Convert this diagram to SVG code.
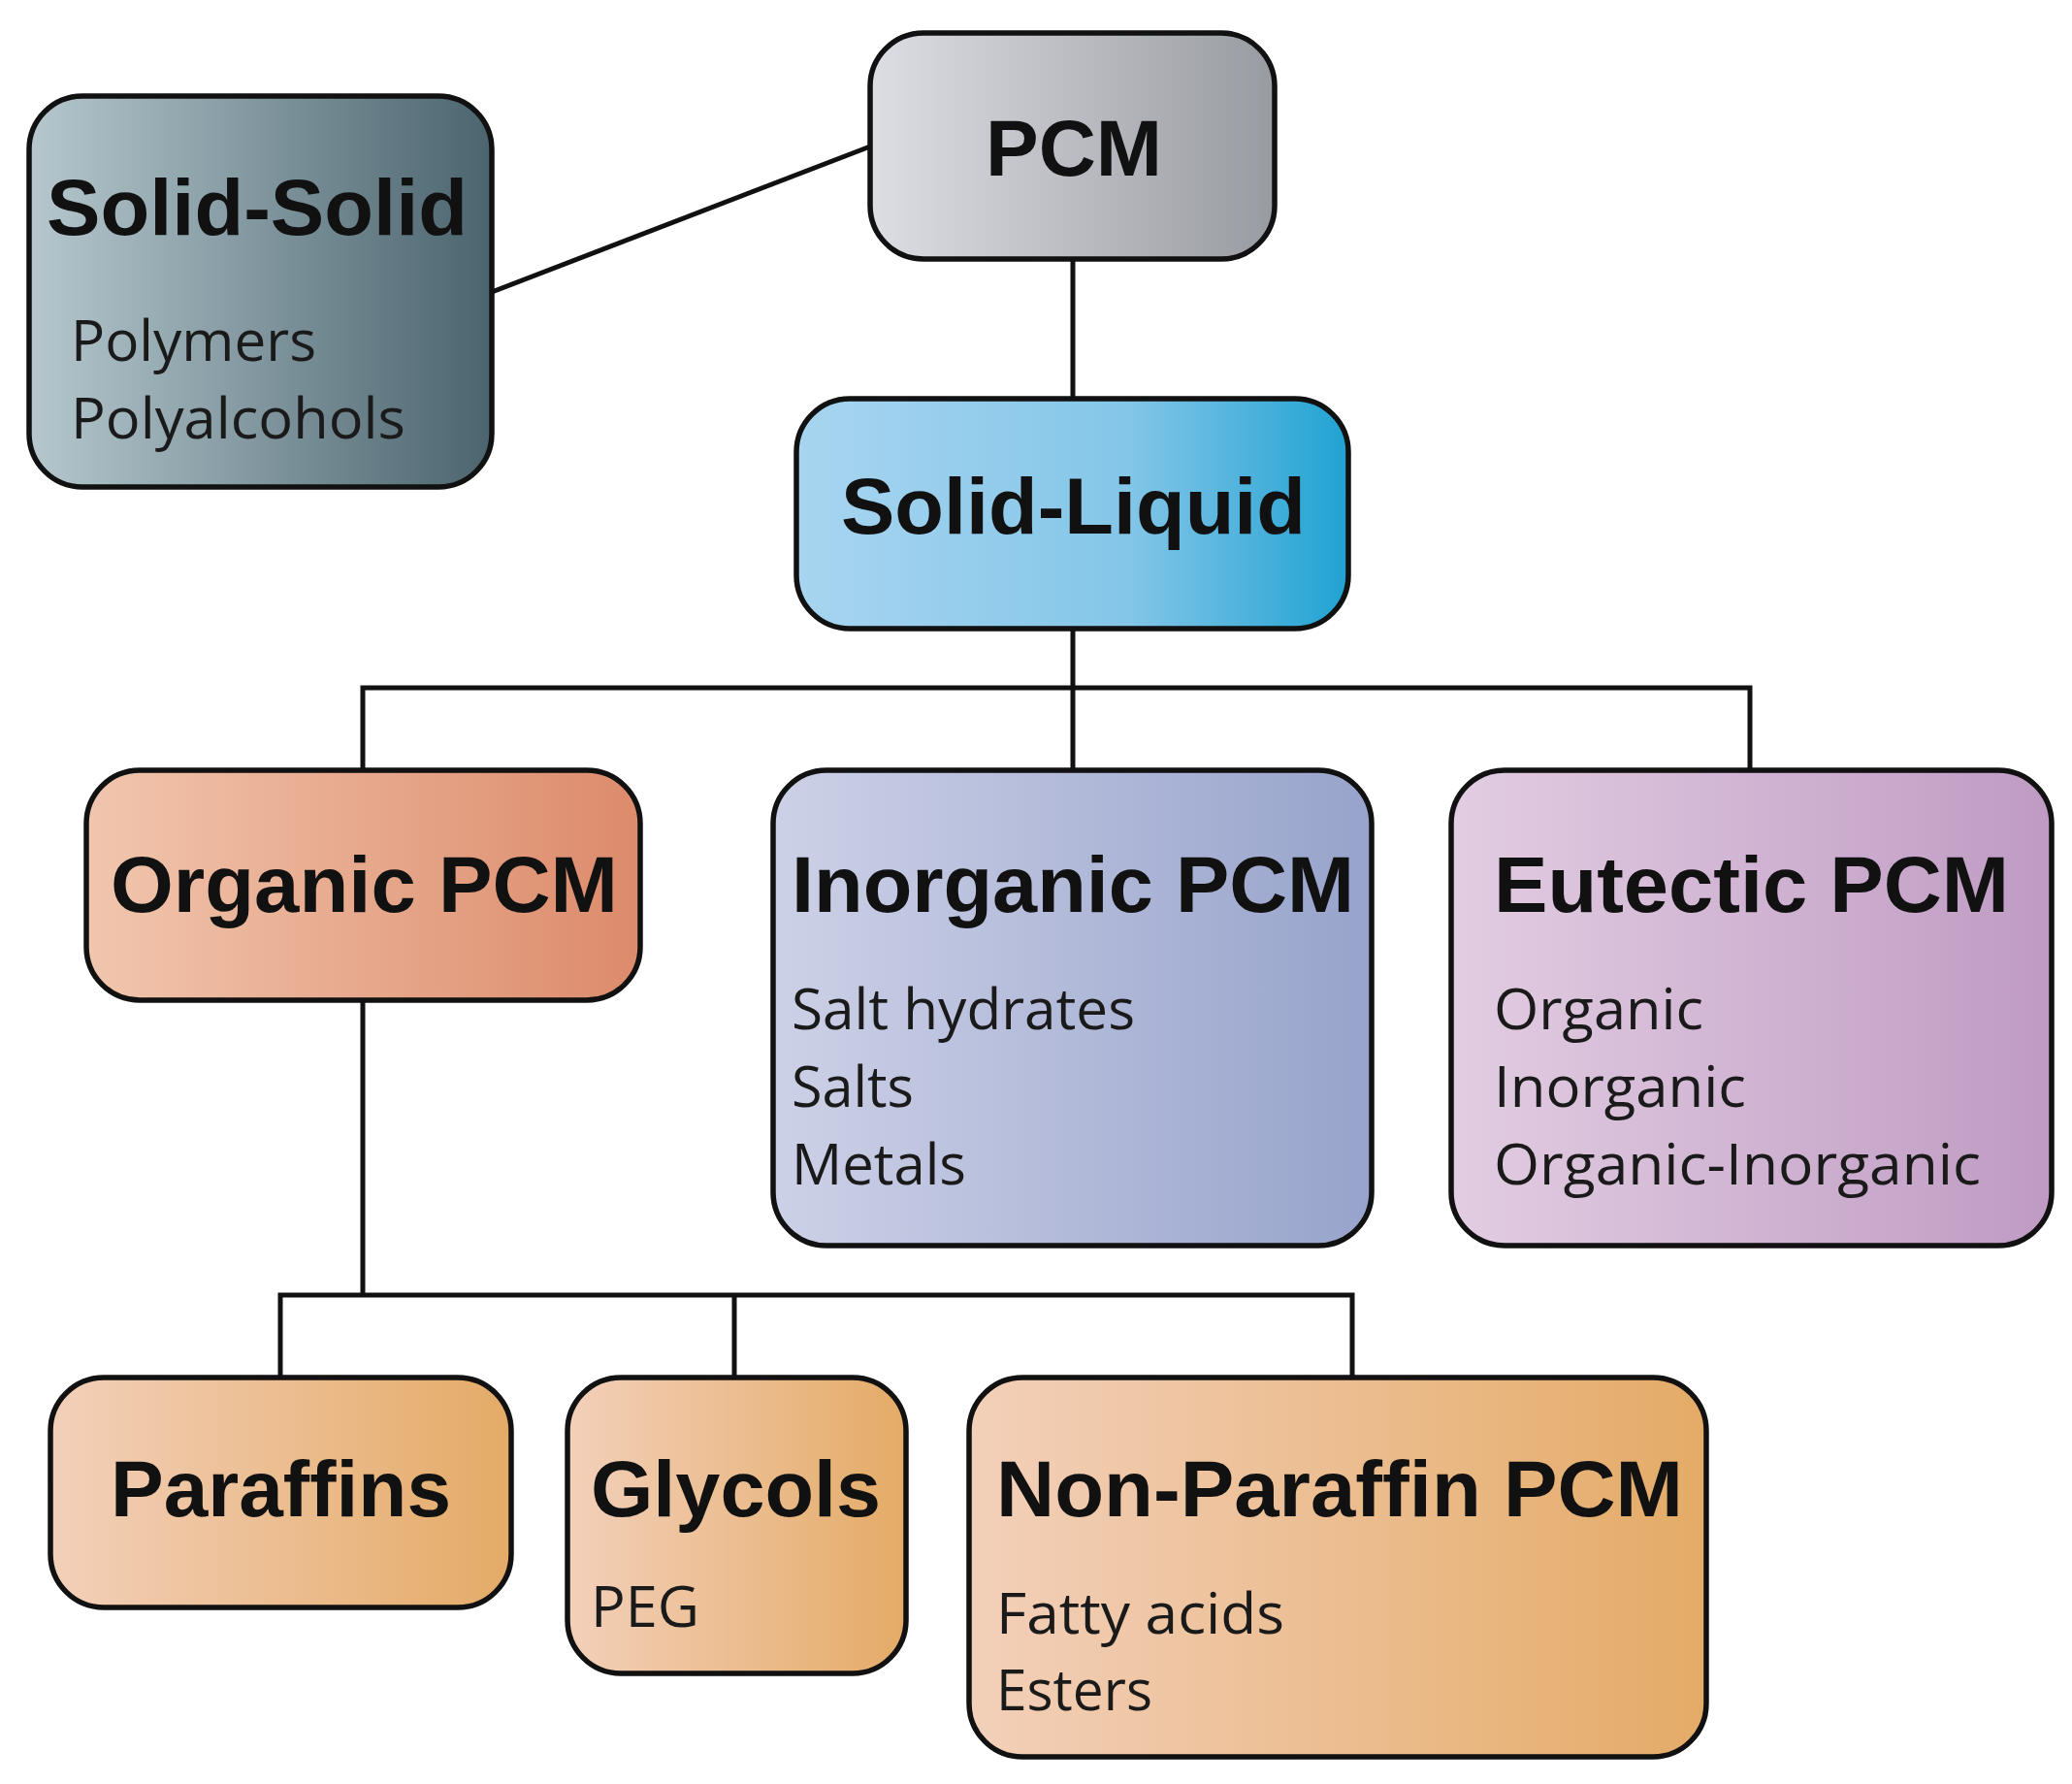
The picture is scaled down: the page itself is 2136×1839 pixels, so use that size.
<svg xmlns="http://www.w3.org/2000/svg" width="2136" height="1839" viewBox="0 0 2136 1839">
<defs>
<linearGradient id="gPCM"><stop offset="0" stop-color="#dddee4"/><stop offset="1" stop-color="#999ba2"/></linearGradient>
<linearGradient id="gSS"><stop offset="0" stop-color="#b6c8ce"/><stop offset="1" stop-color="#4b646e"/></linearGradient>
<linearGradient id="gSL"><stop offset="0" stop-color="#a8d5f0"/><stop offset="0.6" stop-color="#84c6e8"/><stop offset="1" stop-color="#20a2d2"/></linearGradient>
<linearGradient id="gOrg"><stop offset="0" stop-color="#f1c6ae"/><stop offset="1" stop-color="#dc8b6b"/></linearGradient>
<linearGradient id="gInorg"><stop offset="0" stop-color="#cdd1e7"/><stop offset="1" stop-color="#97a3cb"/></linearGradient>
<linearGradient id="gEut"><stop offset="0" stop-color="#e2cde2"/><stop offset="1" stop-color="#bf9bc3"/></linearGradient>
<linearGradient id="gOr"><stop offset="0" stop-color="#f3d0ba"/><stop offset="1" stop-color="#e4ab67"/></linearGradient>
</defs>
<style>
.box{stroke:#111;stroke-width:5.5}
.t{font-family:"Liberation Sans",Arial,sans-serif;font-weight:bold;font-size:82px;fill:#111}
.s{font-family:"Open Sans","Noto Sans",sans-serif;font-size:58px;fill:#1a1a1a}
.c{fill:none;stroke:#111;stroke-width:5}
</style>
<g id="connectors">
<line class="c" x1="897" y1="151" x2="507" y2="301"/>
<line class="c" x1="1106" y1="267" x2="1106" y2="411"/>
<polyline class="c" points="1106,648 1106,794"/>
<polyline class="c" points="374,794 374,709 1804,709 1804,794"/>
<polyline class="c" points="374,1031 374,1335"/>
<polyline class="c" points="289,1420 289,1335 1394,1335 1394,1420"/>
<line class="c" x1="757" y1="1335" x2="757" y2="1420"/>
</g>
<g id="pcm"><rect class="box" x="897" y="34" width="417" height="233" rx="55" fill="url(#gPCM)"/>
<text class="t" x="1016" y="181" textLength="182" lengthAdjust="spacingAndGlyphs">PCM</text></g>
<g id="solid-solid"><rect class="box" x="30" y="99" width="477" height="403" rx="55" fill="url(#gSS)"/>
<text class="t" x="48" y="242" textLength="434" lengthAdjust="spacingAndGlyphs">Solid-Solid</text>
<text class="s" x="73" y="372" textLength="253" lengthAdjust="spacingAndGlyphs">Polymers</text>
<text class="s" x="73" y="452" textLength="345" lengthAdjust="spacingAndGlyphs">Polyalcohols</text></g>
<g id="solid-liquid"><rect class="box" x="821" y="411" width="569" height="237" rx="55" fill="url(#gSL)"/>
<text class="t" x="867" y="550" textLength="479" lengthAdjust="spacingAndGlyphs">Solid-Liquid</text></g>
<g id="organic"><rect class="box" x="89" y="794" width="571" height="237" rx="55" fill="url(#gOrg)"/>
<text class="t" x="114" y="940" textLength="523" lengthAdjust="spacingAndGlyphs">Organic PCM</text></g>
<g id="inorganic"><rect class="box" x="797" y="794" width="617" height="490" rx="55" fill="url(#gInorg)"/>
<text class="t" x="816" y="940" textLength="580" lengthAdjust="spacingAndGlyphs">Inorganic PCM</text>
<text class="s" x="816" y="1061" textLength="354" lengthAdjust="spacingAndGlyphs">Salt hydrates</text>
<text class="s" x="816" y="1141" textLength="126" lengthAdjust="spacingAndGlyphs">Salts</text>
<text class="s" x="816" y="1221" textLength="180" lengthAdjust="spacingAndGlyphs">Metals</text></g>
<g id="eutectic"><rect class="box" x="1496" y="794" width="619" height="490" rx="55" fill="url(#gEut)"/>
<text class="t" x="1540" y="940" textLength="531" lengthAdjust="spacingAndGlyphs">Eutectic PCM</text>
<text class="s" x="1540" y="1061" textLength="216" lengthAdjust="spacingAndGlyphs">Organic</text>
<text class="s" x="1540" y="1141" textLength="260" lengthAdjust="spacingAndGlyphs">Inorganic</text>
<text class="s" x="1540" y="1221" textLength="502" lengthAdjust="spacingAndGlyphs">Organic-Inorganic</text></g>
<g id="paraffins"><rect class="box" x="52" y="1420" width="475" height="237" rx="55" fill="url(#gOr)"/>
<text class="t" x="114" y="1563" textLength="351" lengthAdjust="spacingAndGlyphs">Paraffins</text></g>
<g id="glycols"><rect class="box" x="585" y="1420" width="349" height="305" rx="55" fill="url(#gOr)"/>
<text class="t" x="609" y="1563" textLength="299" lengthAdjust="spacingAndGlyphs">Glycols</text>
<text class="s" x="609" y="1677" textLength="112" lengthAdjust="spacingAndGlyphs">PEG</text></g>
<g id="non-paraffin"><rect class="box" x="999" y="1420" width="760" height="391" rx="55" fill="url(#gOr)"/>
<text class="t" x="1027" y="1563" textLength="708" lengthAdjust="spacingAndGlyphs">Non-Paraffin PCM</text>
<text class="s" x="1027" y="1684" textLength="297" lengthAdjust="spacingAndGlyphs">Fatty acids</text>
<text class="s" x="1027" y="1763" textLength="161" lengthAdjust="spacingAndGlyphs">Esters</text></g>
</svg>
